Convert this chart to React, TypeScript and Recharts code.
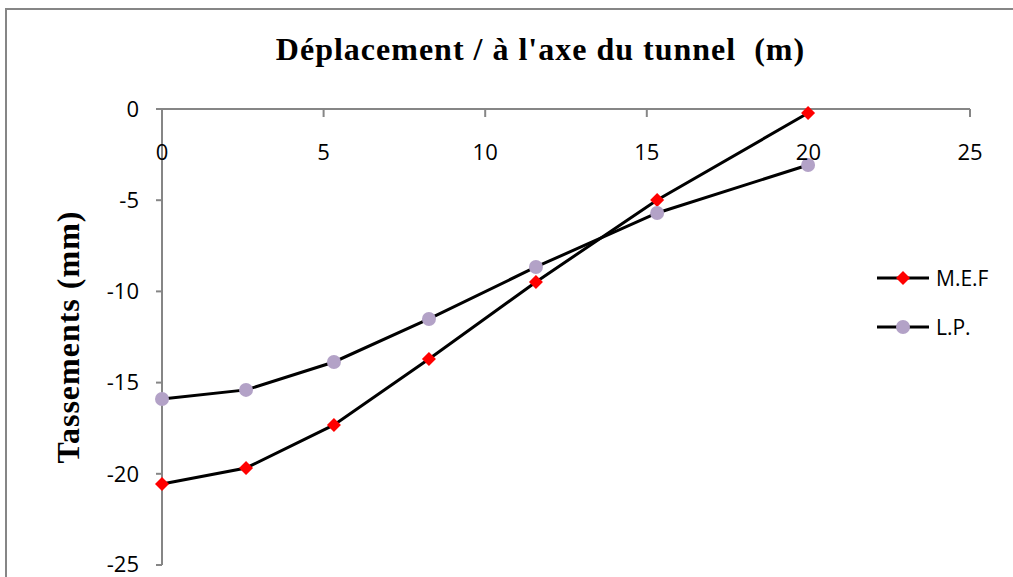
import React from 'react';
import { LineChart, Line, XAxis, YAxis, Legend } from 'recharts';

const xValues = [0, 2.6, 5.32, 8.26, 11.57, 15.32, 19.99];
const mefValues = [-20.56, -19.68, -17.32, -13.71, -9.48, -4.99, -0.22];
const lpValues = [-15.9, -15.4, -13.87, -11.51, -8.66, -5.7, -3.07];
const xTicks = [0, 5, 10, 15, 20, 25];
const yTicks = [0, -5, -10, -15, -20, -25];

const data = xValues.map((x, i) => ({ x, mef: mefValues[i], lp: lpValues[i] }));

const AXIS_GRAY = '#868686';
const RED = '#FF0000';
const LAVENDER = '#B3A2C7';
const SERIF = 'Liberation Serif, serif';
const SANS = 'Open Sans, sans-serif';

const Diamond = (props: any) => {
  const { cx, cy } = props;
  if (cx == null || cy == null) return <g />;
  const s = 7;
  return <path d={`M${cx},${cy - s}L${cx + s},${cy}L${cx},${cy + s}L${cx - s},${cy}Z`} fill={RED} />;
};

const Circle = (props: any) => {
  const { cx, cy } = props;
  if (cx == null || cy == null) return <g />;
  return <circle cx={cx} cy={cy} r={7} fill={LAVENDER} />;
};

const LegendContent = () => (
  <div style={{ fontFamily: SANS, fontSize: 21, color: '#000' }}>
    {[
      { name: 'M.E.F', marker: 'diamond' },
      { name: 'L.P.', marker: 'circle' },
    ].map((item) => (
      <div key={item.name} style={{ display: 'flex', alignItems: 'center', height: 49 }}>
        <svg width={56} height={20}>
          <line x1={2} y1={10} x2={54} y2={10} stroke="#000" strokeWidth={3} />
          {item.marker === 'diamond' ? (
            <path d="M28,3L35,10L28,17L21,10Z" fill={RED} />
          ) : (
            <circle cx={28} cy={10} r={7} fill={LAVENDER} />
          )}
        </svg>
        <span style={{ marginLeft: 5 }}>{item.name}</span>
      </div>
    ))}
  </div>
);

export default function App() {
  return (
    <div style={{ position: 'absolute', left: 0, top: 0, width: 1013, height: 577, background: '#fff', overflow: 'hidden' }}>
      <div
        style={{
          position: 'absolute',
          left: 5,
          top: 8,
          width: 1013,
          height: 600,
          border: `2px solid ${AXIS_GRAY}`,
          boxSizing: 'border-box',
        }}
      />
      <div
        style={{
          position: 'absolute',
          left: 0,
          top: 31,
          width: 1081,
          textAlign: 'center',
          fontFamily: SERIF,
          fontWeight: 'bold',
          fontSize: 32,
          letterSpacing: 1,
          color: '#000',
          whiteSpace: 'pre',
        }}
      >
        {"Déplacement / à l'axe du tunnel  (m)"}
      </div>
      <div style={{ position: 'absolute', left: 0, top: 0 }}>
        <LineChart width={1013} height={577} data={data} margin={{ top: 109, right: 43, bottom: 12, left: 102 }}>
          <XAxis
            dataKey="x"
            type="number"
            orientation="top"
            mirror
            height={30}
            domain={[0, 25]}
            ticks={xTicks}
            stroke={AXIS_GRAY}
            strokeWidth={2}
            tickSize={8}
            tickMargin={27}
            tick={{ fill: '#000', fontSize: 22, fontFamily: SANS }}
          />
          <YAxis
            type="number"
            domain={[-25, 0]}
            ticks={yTicks}
            width={60}
            stroke={AXIS_GRAY}
            strokeWidth={2}
            tickSize={6}
            tickMargin={17}
            tick={{ fill: '#000', fontSize: 22, fontFamily: SANS }}
            label={{
              value: 'Tassements (mm)',
              angle: -90,
              position: 'left',
              offset: 34,
              style: { fill: '#000', fontSize: 32, fontWeight: 'bold', fontFamily: SERIF, letterSpacing: 1, textAnchor: 'middle' },
            }}
          />
          <Legend
            layout="horizontal"
            verticalAlign="middle"
            align="center"
            content={<LegendContent />}
            wrapperStyle={{ left: 875, top: 253, width: 140 }}
          />
          <Line
            name="M.E.F"
            dataKey="mef"
            stroke="#000"
            strokeWidth={3}
            dot={<Diamond />}
            activeDot={false}
            isAnimationActive={false}
          />
          <Line
            name="L.P."
            dataKey="lp"
            stroke="#000"
            strokeWidth={3}
            dot={<Circle />}
            activeDot={false}
            isAnimationActive={false}
          />
        </LineChart>
      </div>
    </div>
  );
}
